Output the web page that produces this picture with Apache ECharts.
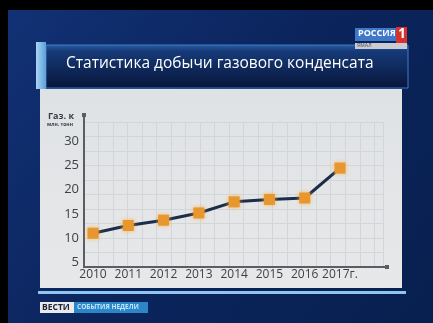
<!DOCTYPE html>
<html><head><meta charset="utf-8">
<script src="https://cdn.jsdelivr.net/npm/echarts@6/dist/echarts.min.js"></script>
<style>html,body{margin:0;padding:0;background:#000;}#c{width:433px;height:323px;}</style>
</head><body><div id="c"></div>
<script>
const years = ['2010','2011','2012','2013','2014','2015','2016','2017г.'];
const production = [11.0, 12.6, 13.7, 15.2, 17.5, 18.0, 18.3, 24.5];
const yTicks = [5, 10, 15, 20, 25, 30];
const titleText = 'Статистика добычи газового конденсата';
const unitMain = 'Газ. к';
const unitSub = 'млн. тонн';

const chart = echarts.init(document.getElementById('c'));
const axisCol = '#5a5d62';
chart.setOption({
  animation: false,
  backgroundColor: {type:'linear', x:0, y:0, x2:1, y2:1, colorStops:[
    {offset:0, color:'#123276'},{offset:0.5, color:'#0b245c'},{offset:1, color:'#08204f'}]},
  graphic: [
    {type:'rect', shape:{x:0,y:0,width:433,height:10}, style:{fill:'#000'}},
    {type:'rect', shape:{x:0,y:0,width:8,height:323}, style:{fill:'#000'}},
    // title bar
    {type:'rect', shape:{x:46,y:45,width:362,height:43}, style:{fill:{type:'linear',x:0,y:0,x2:0,y2:1,colorStops:[
      {offset:0,color:'#2b5fa6'},{offset:0.15,color:'#163a78'},{offset:1,color:'#07153a'}]}, stroke:'#3d7cc4', lineWidth:1}},
    {type:'rect', shape:{x:36,y:42,width:10,height:47}, style:{fill:{type:'linear',x:0,y:0,x2:1,y2:0,colorStops:[
      {offset:0,color:'#a9d6f5'},{offset:1,color:'#5c9fd8'}]}}},
    {type:'text', left:66, top:56, style:{text:titleText, fill:'#ffffff', font:'15.5px "Open Sans", sans-serif'}},
    // logo
    {type:'rect', shape:{x:355,y:28,width:41,height:13}, style:{fill:'#3f78c8'}},
    {type:'text', left:358, top:29, style:{text:'РОССИЯ', fill:'#ffffff', font:'bold 9px "Open Sans", sans-serif'}},
    {type:'rect', shape:{x:396,y:27,width:11,height:16}, style:{fill:'#d8322e'}},
    {type:'text', left:398, top:27, style:{text:'1', fill:'#ffffff', font:'bold 14px "Open Sans", sans-serif'}},
    {type:'rect', shape:{x:355,y:43,width:52,height:6}, style:{fill:'#c9ccd2'}},
    {type:'text', left:357, top:43, style:{text:'ЯМАЛ', fill:'#555', font:'5px sans-serif'}},
    // panel
    {type:'rect', shape:{x:40,y:89,width:362,height:199}, style:{fill:{type:'linear',x:0,y:0,x2:0,y2:1,colorStops:[
      {offset:0,color:'#dfe2e5'},{offset:1,color:'#e7e8e9'}]}}, z:-10},
    {type:'rect', shape:{x:38,y:291,width:368,height:3}, style:{fill:'#8fc6ee'}},
    // bottom logo
    {type:'rect', shape:{x:40,y:302,width:34,height:11}, style:{fill:'#e8eaee'}},
    {type:'text', left:42, top:303, style:{text:'ВЕСТИ', fill:'#223', font:'bold 8.5px "Open Sans", sans-serif'}},
    {type:'rect', shape:{x:74,y:302,width:74,height:11}, style:{fill:'#2b86c8'}},
    {type:'text', left:77, top:304, style:{text:'СОБЫТИЯ НЕДЕЛИ', fill:'#bfe6ff', font:'bold 6.5px "Open Sans", sans-serif'}},
    // units
    {type:'text', left:48, top:112, style:{text:unitMain, fill:'#3a3d42', font:'bold 9px "Open Sans", sans-serif'}},
    {type:'text', left:47, top:122, style:{text:unitSub, fill:'#3a3d42', font:'bold 5px "Open Sans", sans-serif'}},
    // axis end caps
    {type:'rect', shape:{x:82,y:113,width:4,height:4}, style:{fill:axisCol}, z:20},
    {type:'rect', shape:{x:385,y:265,width:4,height:4}, style:{fill:axisCol}, z:20}
  ],
  grid: [
    {left:84, right:46, top:115, bottom:56},
    {left:84, right:50, top:122, bottom:56},
    {left:93, right:93, top:115, bottom:56}
  ],
  xAxis: [
    {gridIndex:0, type:'value', min:0, max:1, axisLine:{show:true, lineStyle:{color:axisCol, width:2}}, axisTick:{show:false}, axisLabel:{show:false}, splitLine:{show:false}},
    {gridIndex:1, type:'value', min:0, max:20.6, interval:1, axisLine:{show:false}, axisTick:{show:false}, axisLabel:{show:false}, splitLine:{show:true, lineStyle:{color:'#d3d6d9', width:1}}},
    {gridIndex:2, type:'category', data:years, boundaryGap:false, axisLine:{show:false}, axisTick:{show:false},
      axisLabel:{color:'#3e4146', fontSize:12, fontFamily:'"Open Sans", sans-serif', margin:2, interval:0}}
  ],
  yAxis: [
    {gridIndex:0, type:'value', min:4, max:35.5, axisLine:{show:true, lineStyle:{color:axisCol, width:2}}, axisTick:{show:false}, splitLine:{show:false},
      axisLabel:{customValues:yTicks, color:'#3e4146', fontSize:13, fontFamily:'"Open Sans", sans-serif', margin:5}},
    {gridIndex:1, type:'value', min:0, max:10, interval:1, axisLine:{show:false}, axisTick:{show:false}, axisLabel:{show:false}, splitLine:{show:true, lineStyle:{color:'#d3d6d9', width:1}}},
    {gridIndex:2, type:'value', min:4, max:35.5, show:false}
  ],
  series: [{
    type:'line', xAxisIndex:2, yAxisIndex:2, data:production,
    symbol:'rect', symbolSize:11,
    lineStyle:{color:'#1b2d48', width:3},
    itemStyle:{color:'#e8962e', shadowColor:'rgba(255,170,60,0.8)', shadowBlur:4},
    z:10
  }]
});
</script></body></html>
